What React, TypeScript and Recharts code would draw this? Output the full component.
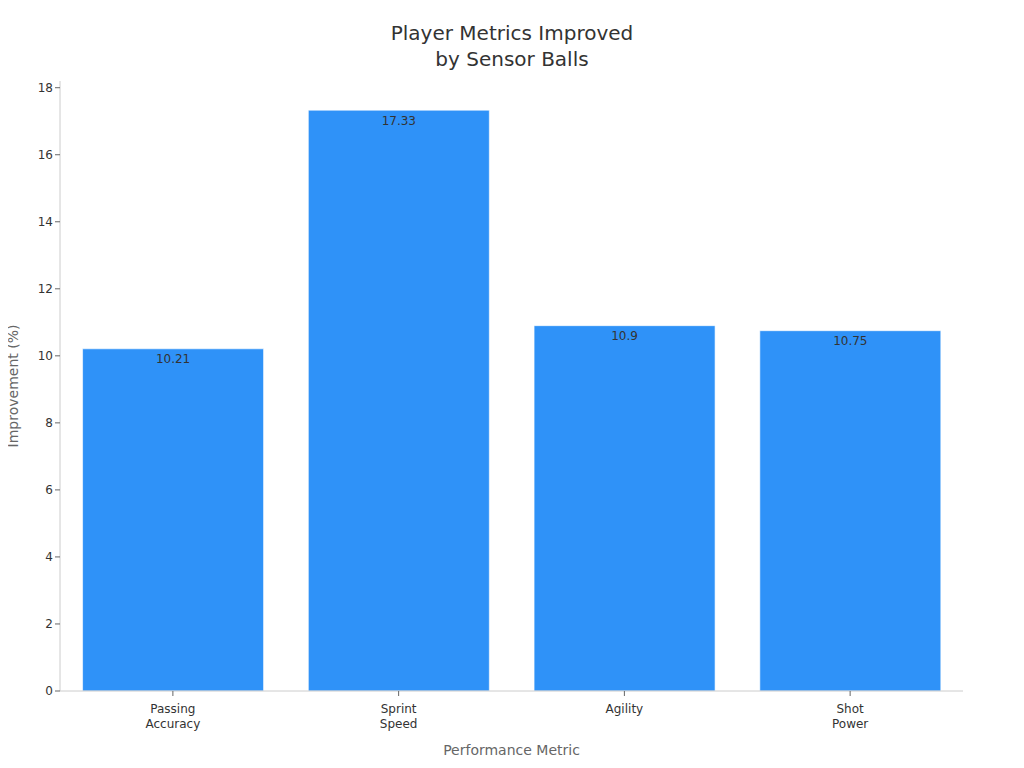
import { BarChart, Bar, XAxis, YAxis, LabelList } from "recharts";

const metrics = ["Passing\nAccuracy", "Sprint\nSpeed", "Agility", "Shot\nPower"];
const improvement = [10.21, 17.33, 10.9, 10.75];
const yTicks = [0, 2, 4, 6, 8, 10, 12, 14, 16, 18];

const data = metrics.map((name, i) => ({ name, value: improvement[i] }));

const font = "DejaVu Sans, sans-serif";

function MultiLineTick(props: any) {
  const { x, y, payload } = props;
  const lines = String(payload.value).split("\n");
  return (
    <text x={x} y={y} textAnchor="middle" fill="#333" fontSize={12} fontFamily={font}>
      {lines.map((line: string, i: number) => (
        <tspan key={i} x={x} dy={15}>
          {line}
        </tspan>
      ))}
    </text>
  );
}

function YLabel(props: any) {
  const { viewBox } = props;
  const cy = viewBox.y + viewBox.height / 2;
  return (
    <text
      x={13}
      y={cy}
      transform={`rotate(-90, 13, ${cy})`}
      textAnchor="middle"
      dominantBaseline="central"
      fill="#666"
      fontSize={14}
      fontFamily={font}
    >
      Improvement (%)
    </text>
  );
}

export default function App() {
  // page has an 8px body margin; pull the chart back to the page corner
  return (
    <div style={{ position: "relative", width: 1024, height: 768, margin: -8, fontFamily: font }}>
      <div
        style={{
          position: "absolute",
          top: 20,
          left: 0,
          width: 1024,
          textAlign: "center",
          fontSize: 20,
          lineHeight: "26px",
          color: "#333",
        }}
      >
        Player Metrics Improved
        <br />
        by Sensor Balls
      </div>
      <BarChart
        width={1024}
        height={768}
        data={data}
        margin={{ top: 81, right: 61, bottom: 37, left: 0 }}
        barCategoryGap="10%"
      >
        <XAxis
          dataKey="name"
          tick={<MultiLineTick />}
          tickLine={{ stroke: "#666" }}
          tickSize={5}
          axisLine={{ stroke: "#ccc" }}
          height={40}
          interval={0}
          label={{
            value: "Performance Metric",
            position: "insideBottom",
            offset: -24,
            fill: "#666",
            fontSize: 14,
            fontFamily: font,
          }}
        />
        <YAxis
          domain={[0, 18.2]}
          ticks={yTicks}
          width={60}
          tick={{ fill: "#333", fontSize: 12, fontFamily: font }}
          tickLine={{ stroke: "#666" }}
          tickSize={5}
          axisLine={{ stroke: "#ccc" }}
          label={{ content: <YLabel /> }}
        />
        <Bar
          dataKey="value"
          fill="#2f92f8"
          stroke="rgba(255,255,255,0.6)"
          strokeWidth={1}
          isAnimationActive={false}
        >
          <LabelList
            dataKey="value"
            position="insideTop"
            offset={6}
            fill="#333"
            fontSize={12}
            fontFamily={font}
          />
        </Bar>
      </BarChart>
    </div>
  );
}
